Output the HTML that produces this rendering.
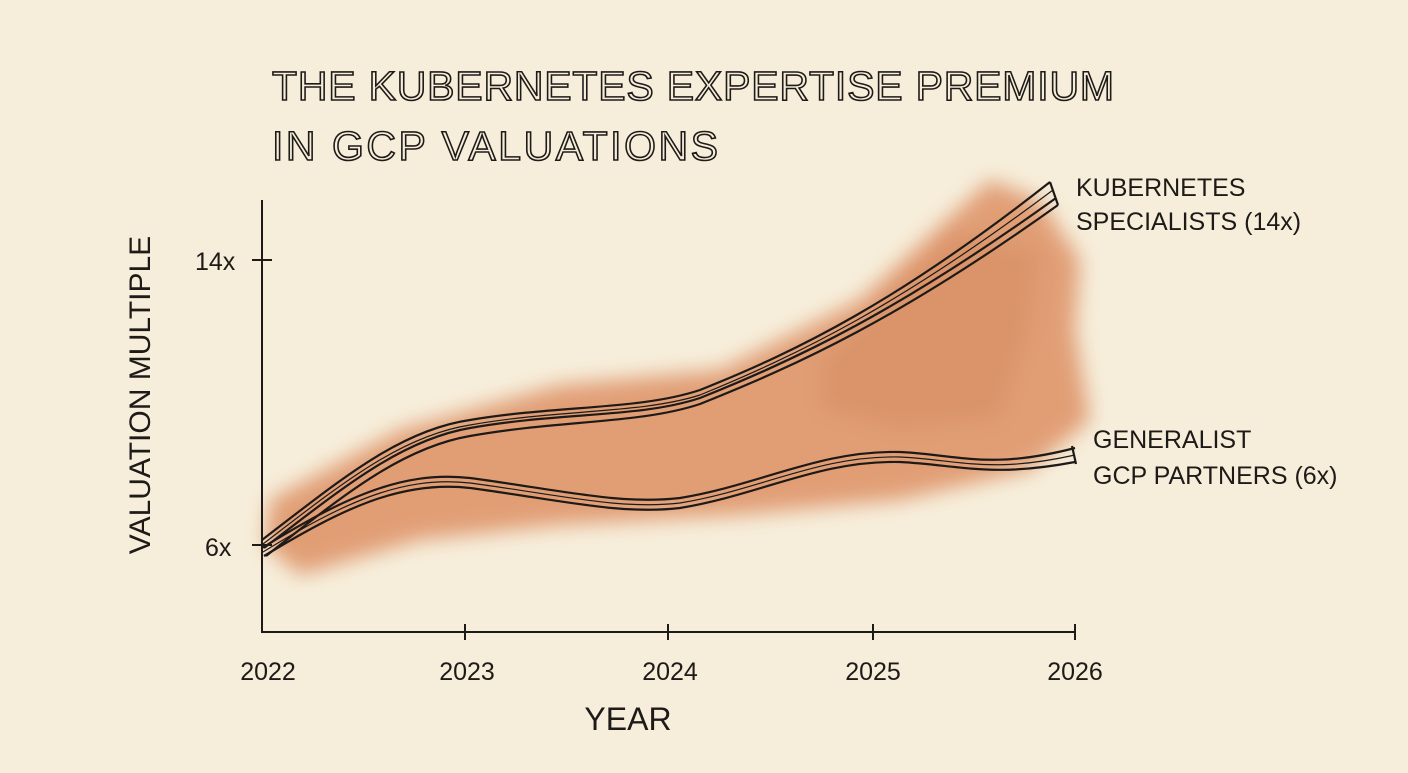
<!DOCTYPE html>
<html><head><meta charset="utf-8"><style>
body{margin:0;width:1408px;height:768px;background:#f6eedb;overflow:hidden;font-family:"Liberation Sans",sans-serif}
</style></head><body>
<svg width="1408" height="768" viewBox="0 0 1408 768">
<defs><filter id="b"><feGaussianBlur stdDeviation="10"/></filter></defs>
<rect width="1408" height="768" fill="#f6eedb"/>
<g filter="url(#b)" opacity="0.72">
<path d="M270,500 L400,430 L560,385 L720,370 L860,300 L990,180 L1040,200 L1080,260 L1075,330 L1090,420 L1030,470 L900,500 L740,515 L560,525 L420,540 L300,575 L265,545 Z" fill="#d9804f"/>
<path d="M820,360 L950,230 L1040,250 L1030,330 L1000,420 L900,430 L820,410 Z" fill="#cf6c3a" opacity="0.7"/>
</g>
<g fill="none" stroke="#1e1a17" stroke-width="2">
<path d="M262,200 L262,632 L1075,632"/>
<path d="M252,260 L272,260 M252,545 L272,545 M465,624 L465,640 M668,624 L668,640 M873,624 L873,640 M1075,624 L1075,640"/>
</g>
<g fill="none" stroke="#1e1a17" stroke-width="2.2">
<path d="M262,540 C340,480 400,430 470,420 C560,405 640,410 700,390 C800,350 900,300 1050,182"/>
<path d="M263,544 C340,485 400,436 470,425 C560,409 640,414 700,395 C800,354 900,305 1053,190" stroke-width="1.2"/>
<path d="M264,548 C340,490 400,440 470,428 C560,412 640,418 700,398 C800,358 900,310 1056,198"/>
<path d="M266,556 C340,498 400,448 470,436 C560,420 640,424 700,404 C800,364 900,318 1058,205"/>
<path d="M1050,182 L1058,205"/>
<path d="M262,548 C340,500 400,470 470,478 C560,490 620,505 680,498 C760,485 820,450 900,452 C960,455 990,470 1075,448"/>
<path d="M263,552 C340,505 400,475 470,483 C560,495 620,510 680,503 C760,490 820,455 900,457 C960,460 990,474 1075,455" stroke-width="1.2"/>
<path d="M264,556 C340,510 400,480 470,488 C560,500 620,515 680,508 C760,495 820,460 900,462 C960,465 990,478 1075,462"/>
<path d="M1072,446 L1076,464"/>
</g>
<g font-family="Liberation Sans,sans-serif" fill="#1e1a17">
<text x="272" y="100" font-size="41" fill="none" stroke="#1e1a17" stroke-width="1.6" textLength="842">THE KUBERNETES EXPERTISE PREMIUM</text>
<text x="272" y="160" font-size="41" fill="none" stroke="#1e1a17" stroke-width="1.6" textLength="446">IN GCP VALUATIONS</text>
<text x="1076" y="196" font-size="25">KUBERNETES</text>
<text x="1076" y="230" font-size="25">SPECIALISTS (14x)</text>
<text x="1093" y="448" font-size="25">GENERALIST</text>
<text x="1093" y="484" font-size="25">GCP PARTNERS (6x)</text>
<text x="195" y="270" font-size="25">14x</text>
<text x="205" y="556" font-size="25">6x</text>
<text x="268" y="680" font-size="25" text-anchor="middle">2022</text>
<text x="467" y="680" font-size="25" text-anchor="middle">2023</text>
<text x="670" y="680" font-size="25" text-anchor="middle">2024</text>
<text x="873" y="680" font-size="25" text-anchor="middle">2025</text>
<text x="1075" y="680" font-size="25" text-anchor="middle">2026</text>
<text x="628" y="730" font-size="32" text-anchor="middle">YEAR</text>
<text transform="translate(150,395) rotate(-90)" font-size="30" text-anchor="middle">VALUATION MULTIPLE</text>
</g>
</svg>
</body></html>
